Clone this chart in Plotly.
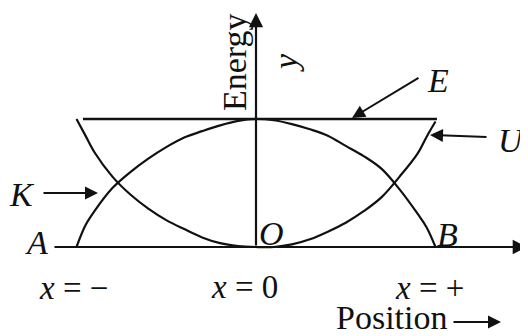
import plotly.graph_objects as go

# ---- data (position in units of amplitude, energy in units of total energy E) ----
positions = [-1.0, -0.95, -0.9, -0.8, -0.7, -0.6, -0.5, -0.4, -0.3, -0.2, -0.1, 0.0,
             0.1, 0.2, 0.3, 0.4, 0.5, 0.6, 0.7, 0.8, 0.9, 0.95, 1.0]
kinetic = [0.0, 0.17, 0.28, 0.46, 0.585, 0.69, 0.78, 0.855, 0.905, 0.95, 0.985, 1.0,
           0.99, 0.96, 0.92, 0.87, 0.79, 0.71, 0.61, 0.45, 0.26, 0.155, 0.0]
potential = [1.0, 0.87, 0.74, 0.55, 0.41, 0.30, 0.21, 0.14, 0.075, 0.03, 0.008, 0.0,
             0.0, 0.02, 0.06, 0.12, 0.19, 0.28, 0.39, 0.55, 0.73, 0.86, 0.98]
total_x = [-0.964, 1.008]
total_E = [1.0, 1.0]

# page is offset by the default 8px body margin
OFF = 8
W, H = 528 - OFF, 336 - OFF
SX = 179.5          # px per amplitude unit
SY = 128.0          # px per energy unit
X0, Y0 = 256 - OFF, 247 - OFF   # origin in figure pixels
X_RANGE = [-X0 / SX, (W - X0) / SX]
Y_RANGE = [-(H - Y0) / SY, Y0 / SY]


def px(x):
    return (x - OFF - X0) / SX


def py(y):
    return (Y0 - (y - OFF)) / SY


FONT = "Liberation Serif"
BLACK = "#111111"

fig = go.Figure()
line_style = dict(color=BLACK, width=2.2, shape="spline", smoothing=1.0)
fig.add_trace(go.Scatter(x=positions, y=kinetic, mode="lines", line=line_style,
                         hoverinfo="skip", showlegend=False))
fig.add_trace(go.Scatter(x=positions, y=potential, mode="lines", line=line_style,
                         hoverinfo="skip", showlegend=False))
fig.add_trace(go.Scatter(x=total_x, y=total_E, mode="lines",
                         line=dict(color=BLACK, width=2.6),
                         hoverinfo="skip", showlegend=False))

ann = []


def arrow(x0, y0, x1, y1, w=1.8, size=1.4):
    ann.append(dict(x=x1, y=y1, ax=x0, ay=y0, xref="x", yref="y", axref="x", ayref="y",
                    text="", showarrow=True, arrowhead=2, arrowsize=size,
                    arrowwidth=w, arrowcolor=BLACK, standoff=0, startstandoff=0))


def label(text, x, y, size=34, angle=0):
    ann.append(dict(x=px(x), y=py(y), xref="x", yref="y", text=text, showarrow=False,
                    font=dict(family=FONT, size=size, color=BLACK),
                    xanchor="center", yanchor="middle", textangle=angle))


# axes
arrow(px(53), 0, px(527), 0, w=2.2, size=1.3)
arrow(0, 0, 0, py(13), w=2.2, size=1.3)
# pointer arrows
arrow(px(420), py(77), px(352), py(118), w=2.0, size=1.3)
arrow(px(488), py(137), px(430), py(135), w=2.0, size=1.3)
arrow(px(42), py(193), px(98), py(193), w=2.0, size=1.3)
arrow(px(452), py(322), px(501), py(322), w=2.0, size=1.3)

label("Energy", 234, 62, angle=-90)
label("<i>y</i>", 285, 63, angle=-90)
label("<i>E</i>", 438, 80)
label("<i>U</i>", 511, 140)
label("<i>K</i>", 22, 194)
label("<i>A</i>", 36, 242)
label("<i>O</i>", 271, 233)
label("<i>B</i>", 447, 234)
label("<i>x</i> = −", 73, 288, size=33)
label("<i>x</i> = 0", 244, 287, size=33)
label("<i>x</i> = +", 429, 288, size=33)
label("Position", 391, 317)

fig.update_layout(
    width=W, height=H, autosize=False,
    margin=dict(l=0, r=0, t=0, b=0),
    paper_bgcolor="white", plot_bgcolor="white",
    xaxis=dict(range=X_RANGE, visible=False, fixedrange=True),
    yaxis=dict(range=Y_RANGE, visible=False, fixedrange=True),
    annotations=ann,
    showlegend=False,
)

fig.write_html("out.html")
